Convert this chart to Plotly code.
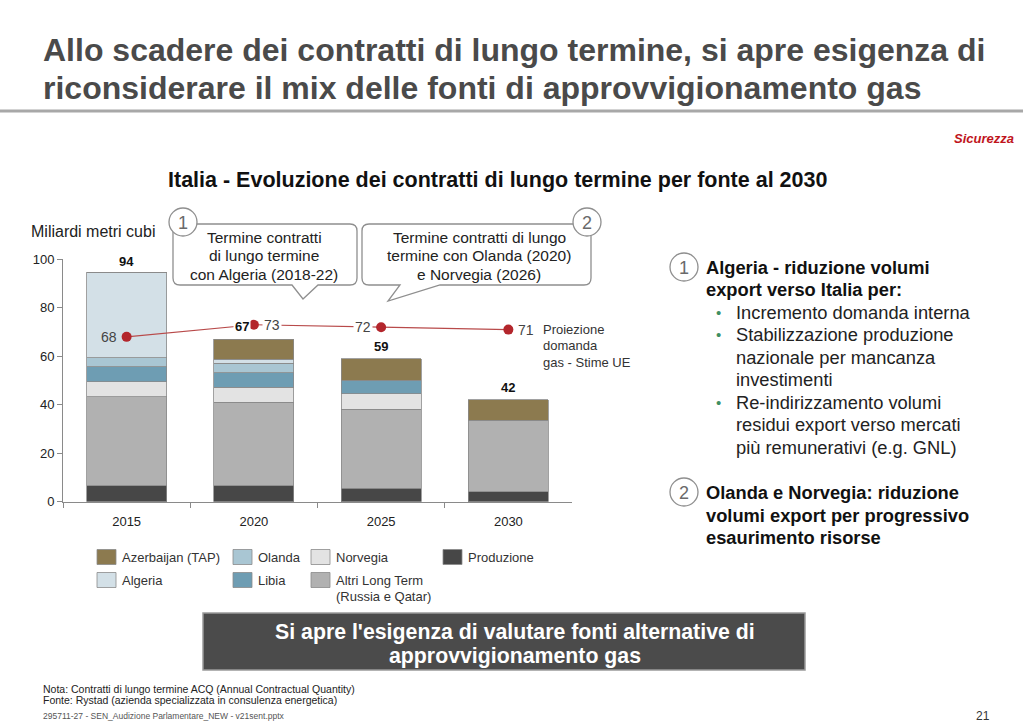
import plotly.graph_objects as go

# ---------------- data ----------------
years = ["2015", "2020", "2025", "2030"]
produzione = [6.5, 6.5, 5.6, 4.0]
altri_lt = [36.7, 34.5, 32.6, 29.7]
norvegia = [6.3, 6.3, 6.4, 0.0]
libia = [6.2, 5.8, 5.6, 0.0]
olanda = [3.7, 4.0, 0.0, 0.0]
algeria = [35.3, 1.6, 0.0, 0.0]
azerbaijan = [0.0, 8.3, 8.7, 8.3]
totals = [94, 67, 59, 42]
domanda = [68, 73, 72, 71]
y_ticks = [0, 20, 40, 60, 80, 100]

series = [
    ("Produzione", produzione, "#474747"),
    ("Altri Long Term (Russia e Qatar)", altri_lt, "#b1b1b1"),
    ("Norvegia", norvegia, "#e3e3e3"),
    ("Libia", libia, "#6e9db3"),
    ("Olanda", olanda, "#a9c6d3"),
    ("Algeria", algeria, "#d3e0e7"),
    ("Azerbaijan (TAP)", azerbaijan, "#8c7a4f"),
]

W, H = 1023, 727
FONT = "Liberation Sans, Arial, sans-serif"


def px(x):
    return x / W


def py(y):
    return 1 - y / H


fig = go.Figure()
for name, vals, col in series:
    fig.add_trace(go.Bar(
        x=years, y=vals, name=name, marker=dict(color=col, line=dict(color="#8a8a8a", width=0.8)),
        hoverinfo="skip"))

fig.add_trace(go.Scatter(
    x=years, y=domanda, mode="lines+markers", name="Proiezione domanda",
    line=dict(color="#b84a4a", width=1.2),
    marker=dict(color="#b3262c", size=10), hoverinfo="skip"))

annotations = []
shapes = []

for i, t in enumerate(totals):
    annotations.append(dict(
        x=i, y=t, xref="x", yref="y", text="<b>%d</b>" % t, showarrow=False,
        yanchor="bottom", yshift=3, xshift=(-12 if i == 1 else 0),
        font=dict(family=FONT, size=13, color="#111"),
        bgcolor=("white" if i == 1 else "rgba(0,0,0,0)"), borderpad=1))

sides = ["left", "right", "left", "right"]
for i, (d, s) in enumerate(zip(domanda, sides)):
    annotations.append(dict(
        x=i, y=d, xref="x", yref="y", text=str(d), showarrow=False,
        xanchor=("right" if s == "left" else "left"), xshift=(-8 if s == "left" else 8),
        font=dict(family=FONT, size=14, color="#444"),
        bgcolor=("white" if i > 0 else "rgba(0,0,0,0)"), borderpad=1))


def txt(x, y, text, size, color="#222", xanchor="left", align="left", bold=False, italic=False, yanchor="middle"):
    t = text
    if bold:
        t = "<b>%s</b>" % t
    if italic:
        t = "<i>%s</i>" % t
    annotations.append(dict(x=px(x), y=py(y), xref="paper", yref="paper", text=t,
                            showarrow=False, xanchor=xanchor, yanchor=yanchor, align=align,
                            borderpad=0,
                            font=dict(family=FONT, size=size, color=color)))


def lines(x, y0, dy, items, size, color="#222", xanchor="left", bold=False):
    for k, it in enumerate(items):
        txt(x, y0 + k * dy, it, size, color, xanchor=xanchor, bold=bold)


lines(542, 329, 16.5, ["Proiezione", "domanda", "gas - Stime UE"], 13, "#333")

txt(42, 50, "Allo scadere dei contratti di lungo termine, si apre esigenza di", 32, "#4a4a4a", bold=True)
txt(42, 88, "riconsiderare il mix delle fonti di approvvigionamento gas", 32, "#4a4a4a", bold=True)
shapes.append(dict(type="line", xref="paper", yref="paper", x0=0, x1=1, y0=py(111), y1=py(111),
                   line=dict(color="#a8a8a8", width=3)))
txt(1015, 138, "Sicurezza", 13, "#c0141c", xanchor="right", bold=True, italic=True)
txt(497, 180, "Italia - Evoluzione dei contratti di lungo termine per fonte al 2030", 21.5, "#111",
    xanchor="center", bold=True)
txt(30, 232, "Miliardi metri cubi", 16, "#222")


def bubble(x0, y0, x1, y1, tri, r=7):
    bl, br, tx, ty = tri
    p = "M %f,%f " % (px(x0 + r), py(y0))
    p += "L %f,%f " % (px(x1 - r), py(y0))
    p += "Q %f,%f %f,%f " % (px(x1), py(y0), px(x1), py(y0 + r))
    p += "L %f,%f " % (px(x1), py(y1 - r))
    p += "Q %f,%f %f,%f " % (px(x1), py(y1), px(x1 - r), py(y1))
    p += "L %f,%f " % (px(br), py(y1))
    p += "L %f,%f " % (px(tx), py(ty))
    p += "L %f,%f " % (px(bl), py(y1))
    p += "L %f,%f " % (px(x0 + r), py(y1))
    p += "Q %f,%f %f,%f " % (px(x0), py(y1), px(x0), py(y1 - r))
    p += "L %f,%f " % (px(x0), py(y0 + r))
    p += "Q %f,%f %f,%f Z" % (px(x0), py(y0), px(x0 + r), py(y0))
    shapes.append(dict(type="path", xref="paper", yref="paper", path=p,
                       fillcolor="white", line=dict(color="#8f8f8f", width=1.3), layer="above"))


def circle_num(cx, cy, r, n):
    shapes.append(dict(type="circle", xref="paper", yref="paper",
                       x0=px(cx - r), x1=px(cx + r), y0=py(cy + r), y1=py(cy - r),
                       fillcolor="white", line=dict(color="#8f8f8f", width=1.3), layer="above"))
    txt(cx, cy + 1, str(n), 18, "#6a6a6a", xanchor="center")


bubble(173, 224, 357, 285, (292, 318, 303, 299))
bubble(362, 224, 591, 285, (400, 440, 388, 301))
circle_num(183, 222, 14, 1)
circle_num(587, 222, 14, 2)
lines(264, 237, 18.5, ["Termine contratti", "di lungo termine", "con Algeria (2018-22)"], 15.5, "#222", xanchor="center")
lines(479, 237, 18.5, ["Termine contratti di lungo", "termine con Olanda (2020)", "e Norvegia (2026)"], 15.5, "#222", xanchor="center")

legend_items = [
    ("Azerbaijan (TAP)", "#8c7a4f", 97, 557),
    ("Algeria", "#d3e0e7", 97, 580),
    ("Olanda", "#a9c6d3", 233, 557),
    ("Libia", "#6e9db3", 233, 580),
    ("Norvegia", "#e3e3e3", 311, 557),
    ("Altri Long Term", "#b1b1b1", 311, 580),
    ("Produzione", "#474747", 443, 557),
]
for label, col, lx, ly in legend_items:
    shapes.append(dict(type="rect", xref="paper", yref="paper",
                       x0=px(lx), x1=px(lx + 19), y0=py(ly + 7.5), y1=py(ly - 7.5),
                       fillcolor=col, line=dict(color="#8a8a8a", width=0.8)))
    txt(lx + 24, ly, label, 13, "#333")
txt(311 + 24, 596, "(Russia e Qatar)", 13, "#333")

RS = 18.3
circle_num(684, 267, 14, 1)
circle_num(684, 492, 14, 2)
txt(705, 267, "Algeria - riduzione volumi", RS, "#111", bold=True)
txt(705, 289, "export verso Italia per:", RS, "#111", bold=True)
bullet_lines = [
    (312, "Incremento domanda interna", True),
    (334, "Stabilizzazione produzione", True),
    (357, "nazionale per mancanza", False),
    (379, "investimenti", False),
    (402, "Re-indirizzamento volumi", True),
    (424, "residui export verso mercati", False),
    (447, "più remunerativi (e.g. GNL)", False),
]
for yy, t, b in bullet_lines:
    if b:
        txt(715, yy, "•", 15, "#3f8f63")
    txt(735, yy, t, RS, "#222")
txt(705, 492, "Olanda e Norvegia: riduzione", RS, "#111", bold=True)
txt(705, 515, "volumi export per progressivo", RS, "#111", bold=True)
txt(705, 537, "esaurimento risorse", RS, "#111", bold=True)

shapes.append(dict(type="rect", xref="paper", yref="paper",
                   x0=px(203), x1=px(805), y0=py(670), y1=py(613),
                   fillcolor="#4b4b4b", line=dict(color="#9a9a9a", width=1.5)))
txt(515, 632, "Si apre l'esigenza di valutare fonti alternative di", 21.3, "white", xanchor="center", bold=True)
txt(515, 656, "approvvigionamento gas", 21.3, "white", xanchor="center", bold=True)

txt(42, 689, "Nota: Contratti di lungo termine ACQ (Annual Contractual Quantity)", 10.5, "#222")
txt(42, 700, "Fonte: Rystad (azienda specializzata in consulenza energetica)", 10.5, "#222")
txt(42, 716, "295711-27 - SEN_Audizione Parlamentare_NEW - v21sent.pptx", 8.5, "#555")
txt(983, 716, "21", 12, "#333", xanchor="center")

fig.update_layout(
    width=W, height=H, margin=dict(l=0, r=0, t=0, b=0, pad=0, autoexpand=False),
    paper_bgcolor="white", plot_bgcolor="white",
    barmode="stack", bargap=0.37, showlegend=False,
    font=dict(family=FONT, size=13, color="#222"),
    annotations=annotations, shapes=shapes,
    xaxis=dict(domain=[px(63), px(572)], type="category", range=[-0.5, 3.5], automargin=False,
               showline=True, linecolor="#8a8a8a", ticklabelstandoff=8,
               linewidth=1, ticks="outside", tickson="boundaries", ticklen=5, tickcolor="#8a8a8a",
               tickfont=dict(family=FONT, size=13, color="#222"), showgrid=False, fixedrange=True),
    yaxis=dict(domain=[1 - 501.7 / H, 1 - 259.3 / H], range=[0, 100], tickvals=y_ticks, automargin=False,
               showline=True, linecolor="#8a8a8a", linewidth=1, ticks="outside", ticklen=5,
               tickcolor="#8a8a8a", showgrid=False, zeroline=False,
               tickfont=dict(family=FONT, size=13, color="#222"), fixedrange=True),
)

post = (
    "document.documentElement.style.margin='0px';"
    "document.documentElement.style.overflow='hidden';"
    "document.body.style.margin='0px';"
    "document.body.style.overflow='hidden';"
    "var gd=document.getElementById('{plot_id}');"
    "var wrap=gd.parentElement;"
    "wrap.style.position='fixed';wrap.style.left='0px';wrap.style.top='0px';"
    "wrap.style.margin='0px';wrap.style.padding='0px';"
)
fig.write_html("out.html", config={"displayModeBar": False}, post_script=post)
